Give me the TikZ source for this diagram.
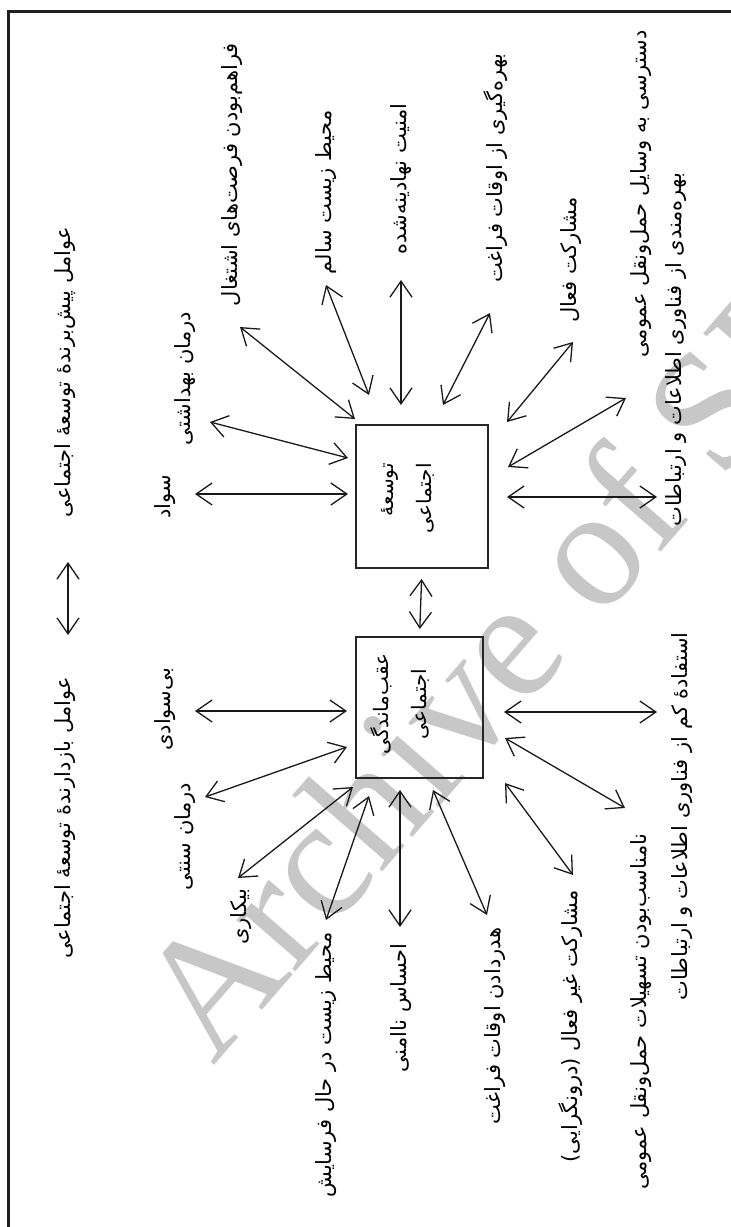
\documentclass[tikz,border=0pt]{standalone}
\usepackage{fontspec}
\usetikzlibrary{arrows.meta}
\TeXXeTstate=1
\newfontfamily\fafont[Script=Arabic]{DejaVu Sans}
\newfontfamily\wmfont{Liberation Serif}
\begin{document}
\begin{tikzpicture}[x=1pt,y=-1pt,
  lbl/.style={rotate=90, anchor=east, inner sep=0pt, font=\fafont\fontsize{21}{24}\selectfont},
  boxtxt/.style={rotate=90, inner sep=0pt, font=\fafont\fontsize{20}{38}\selectfont},
  bx/.style={draw=black!85, line width=1.6pt, inner sep=0pt, outer sep=0pt},
  arr/.style={draw=black!90, line width=1.3pt, {Straight Barb[length=16pt,width=22pt]}-{Straight Barb[length=16pt,width=22pt]}},
  frame/.style={draw=black!88, line width=3pt}]
\useasboundingbox (0,0) rectangle (731,1227);
% watermark
\node[rotate=49, anchor=base west, inner sep=0pt, text=black!22, font=\wmfont\fontsize{170}{170}\selectfont] (wm) at (213,1067) {Archive of SID};
% frame (top and left edges)
\coordinate (fA) at (8,1227);
\coordinate (fB) at (8,11);
\coordinate (fC) at (731,11);
\draw[frame] (fA) -- (fB) -- (fC);
% boxes
\node[bx, minimum width=132pt, minimum height=143pt] (dev) at (422,496.5) {};
\node[bx, minimum width=127pt, minimum height=141pt] (back) at (419.5,707.5) {};
\node[boxtxt, align=right, anchor=east] (devt) at (408,463) {\beginR توسعهٔ\endR\\\beginR اجتماعی\endR};
\node[boxtxt, align=center] (backt) at (400,704) {\beginR عقب‌ماندگی\endR\\\beginR اجتماعی\endR};
% titles
\node[lbl] (t1) at (65,227) {\beginR عوامل پیش‌برندهٔ توسعهٔ اجتماعی\endR};
\node[lbl] (t2) at (65,677) {\beginR عوامل بازدارندهٔ توسعهٔ اجتماعی\endR};
% development factors
\node[lbl] (t3) at (165,475) {\beginR سواد\endR};
\node[lbl] (t4) at (185,312) {\beginR درمان بهداشتی\endR};
\node[lbl] (t5) at (232,43) {\beginR فراهم‌بودن فرصت‌های اشتغال\endR};
\node[lbl] (t6) at (326,110) {\beginR محیط زیست سالم\endR};
\node[lbl] (t7) at (401,103) {\beginR امنیت نهادینه‌شده\endR};
\node[lbl] (t8) at (496,53) {\beginR بهره‌گیری از اوقات فراغت\endR};
\node[lbl] (t9) at (571,197) {\beginR مشارکت فعال\endR};
\node[lbl] (t10) at (641,30) {\beginR دسترسی به وسایل حمل‌ونقل عمومی\endR};
\node[lbl] (t11) at (676,173) {\beginR بهره‌مندی از فناوری اطلاعات و ارتباطات\endR};
% hindering factors
\node[lbl] (t12) at (165,667) {\beginR بی‌سوادی\endR};
\node[lbl] (t13) at (185,783) {\beginR درمان سنتی\endR};
\node[lbl] (t14) at (241,888) {\beginR بیکاری\endR};
\node[lbl] (t15) at (326,932) {\beginR محیط زیست در حال فرسایش\endR};
\node[lbl] (t16) at (401,943) {\beginR احساس ناامنی\endR};
\node[lbl] (t17) at (495,927) {\beginR هدردادن اوقات فراغت\endR};
\node[lbl] (t18) at (571,890) {\beginR مشارکت غیر فعال (درونگرایی)\endR};
\node[lbl] (t19) at (641,833) {\beginR نامناسب‌بودن تسهیلات حمل‌ونقل عمومی\endR};
\node[lbl] (t20) at (682,632) {\beginR استفادهٔ کم از فناوری اطلاعات و ارتباطات\endR};
% arrow endpoints
\coordinate (a1s) at (195,494); \coordinate (a1e) at (348,494);
\coordinate (a2s) at (210,422); \coordinate (a2e) at (348,458);
\coordinate (a3s) at (240,327); \coordinate (a3e) at (355,419);
\coordinate (a4s) at (326,285); \coordinate (a4e) at (369,395);
\coordinate (a5s) at (401,280); \coordinate (a5e) at (401,405);
\coordinate (a6s) at (490,313); \coordinate (a6e) at (443,405);
\coordinate (a7s) at (573,342); \coordinate (a7e) at (507,422);
\coordinate (a8s) at (626,398); \coordinate (a8e) at (508,467);
\coordinate (a9s) at (657,497); \coordinate (a9e) at (507,497);
\coordinate (b1s) at (195,711); \coordinate (b1e) at (347,711);
\coordinate (b2s) at (205,797); \coordinate (b2e) at (347,747);
\coordinate (b3s) at (238,878); \coordinate (b3e) at (353,787);
\coordinate (b4s) at (326,920); \coordinate (b4e) at (369,796);
\coordinate (b5s) at (400,927); \coordinate (b5e) at (400,790);
\coordinate (b6s) at (487,915); \coordinate (b6e) at (433,790);
\coordinate (b7s) at (573,875); \coordinate (b7e) at (505,783);
\coordinate (b8s) at (625,808); \coordinate (b8e) at (505,738);
\coordinate (b9s) at (657,712); \coordinate (b9e) at (504,712);
\coordinate (tts) at (68,562); \coordinate (tte) at (68,635);
\foreach \p in {a1,a2,a3,a4,a5,a6,a7,a8,a9,b1,b2,b3,b4,b5,b6,b7,b8,b9,tt}
  \draw[arr] (\p s) -- (\p e);
% link between the two boxes
\draw[arr, shorten <=11pt, shorten >=8pt] (dev.south) -- (back.north);
\end{tikzpicture}
\end{document}
